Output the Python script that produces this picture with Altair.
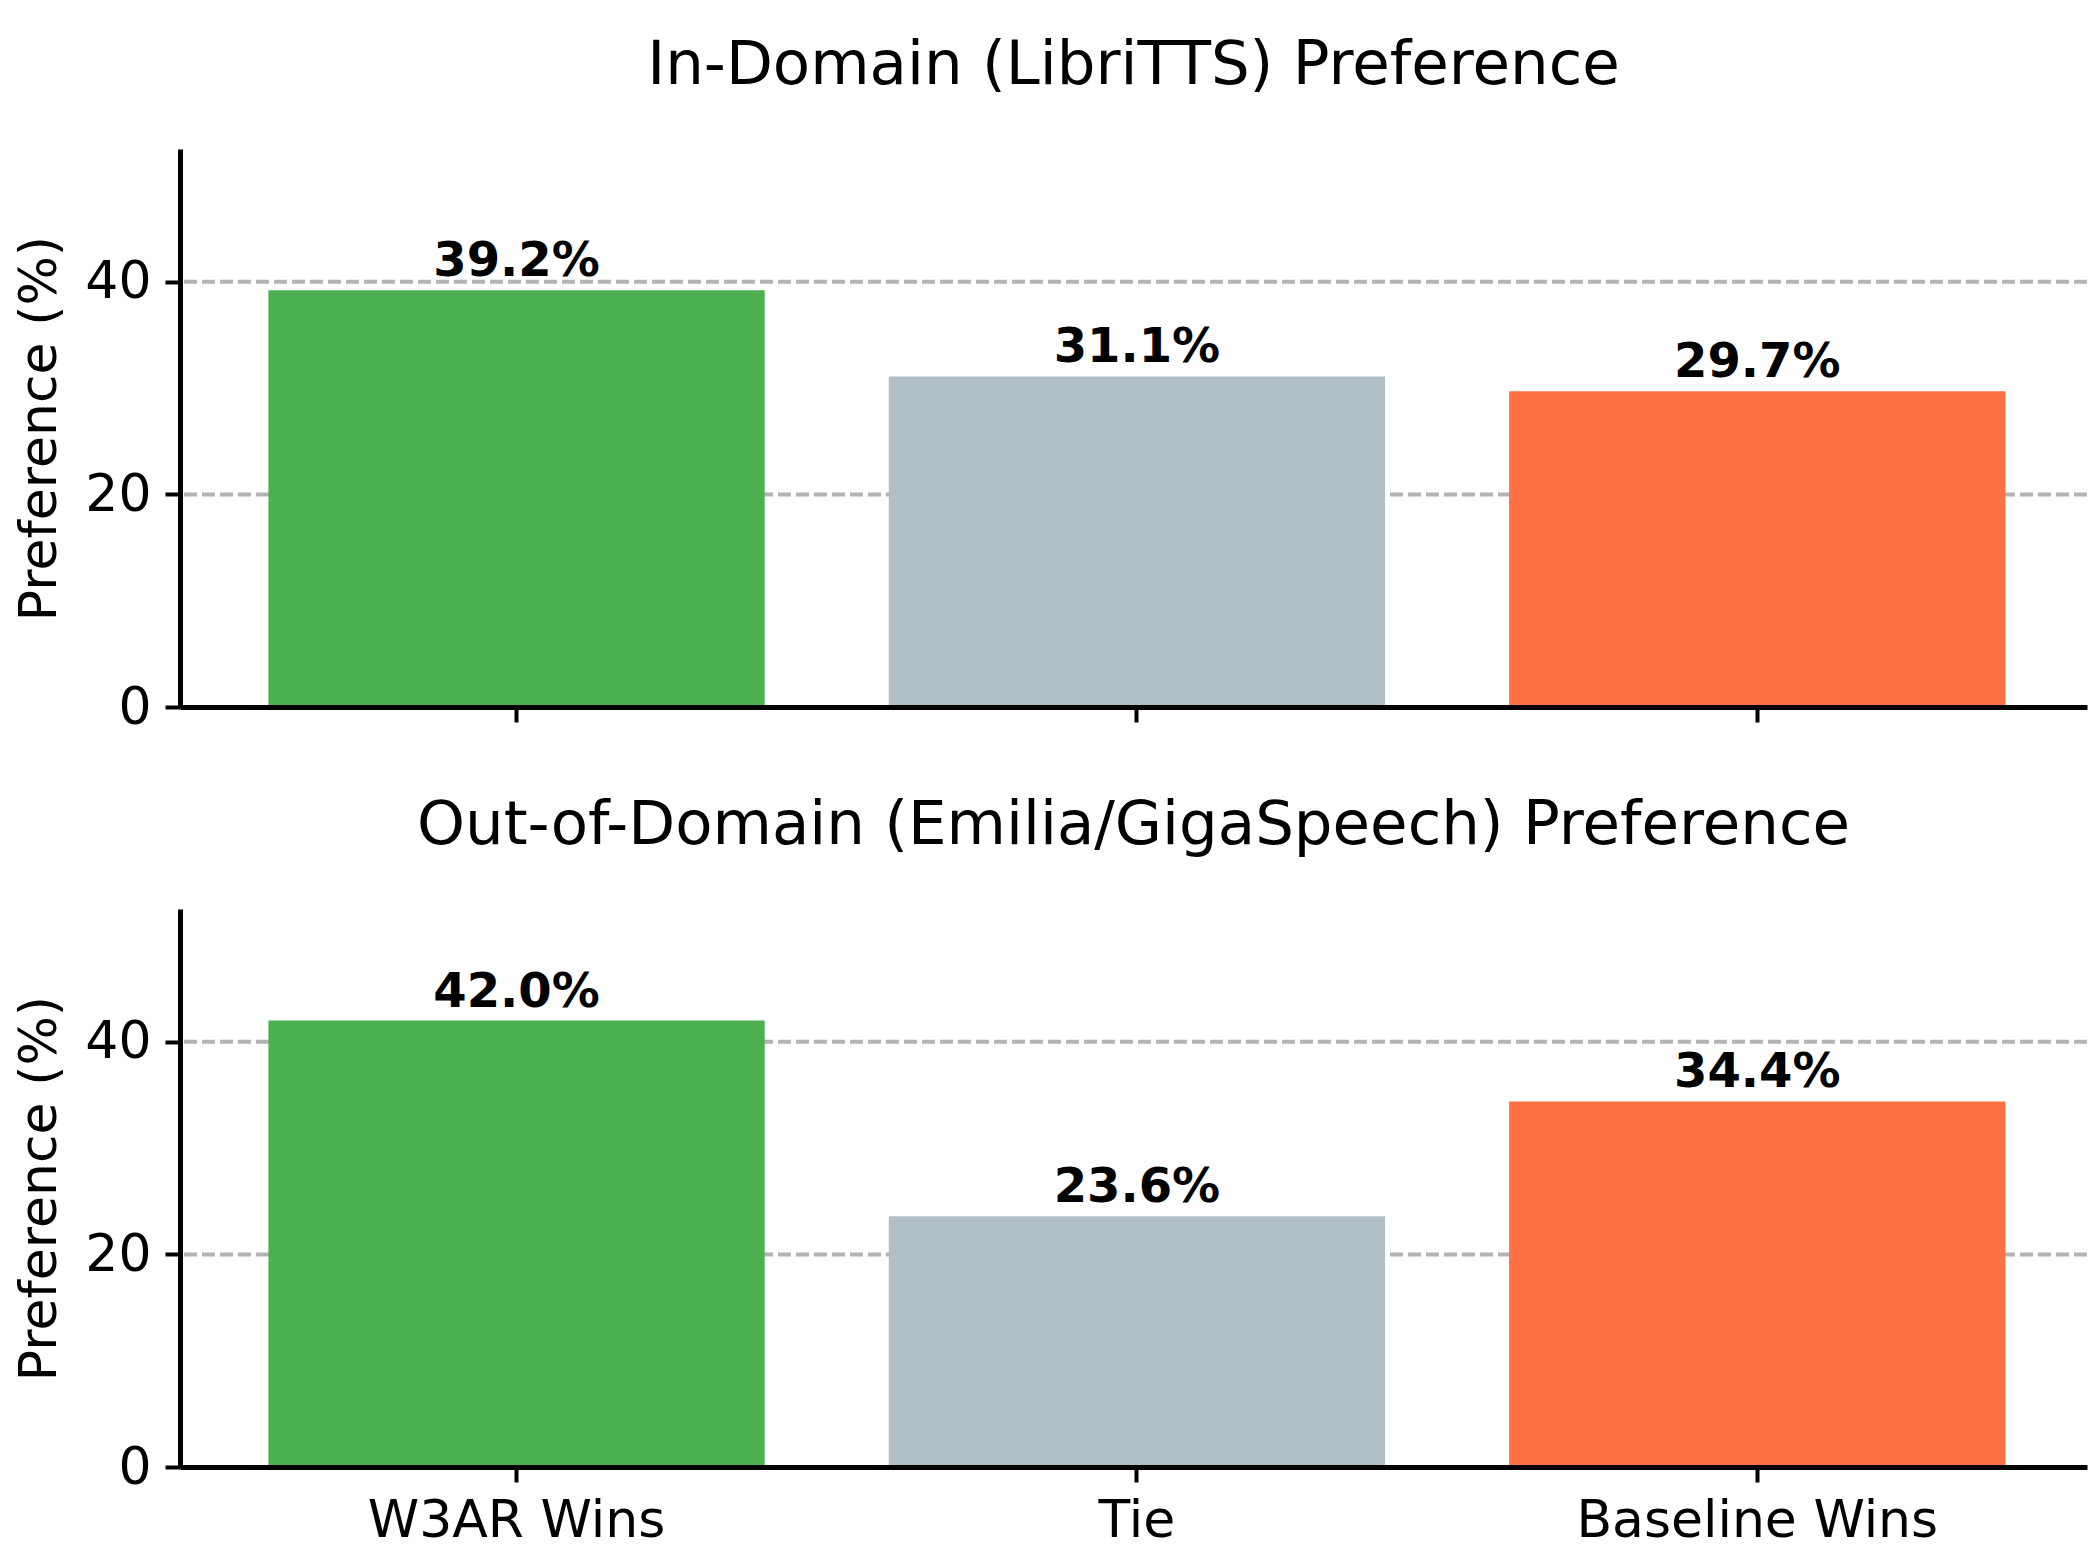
import altair as alt
import pandas as pd

categories = ["W3AR Wins", "Tie", "Baseline Wins"]
in_domain = [39.2, 31.1, 29.7]
out_domain = [42.0, 23.6, 34.4]
bar_colors = ["#4CAF50", "#B0BEC5", "#FF7043"]
grid_values = [20, 40]
y_ticks = [0, 20, 40]
y_max = 52.5

titles = ["In-Domain (LibriTTS) Preference",
          "Out-of-Domain (Emilia/GigaSpeech) Preference"]

FONT = "DejaVu Sans"
W, H = 1907, 558


def panel(values, title, show_labels):
    df = pd.DataFrame({
        "category": categories,
        "value": values,
        "label": [f"{v:.1f}%" for v in values],
    })
    grid_df = pd.DataFrame({"g": grid_values})

    x = alt.X(
        "category:N",
        sort=categories,
        scale=alt.Scale(paddingInner=0.2, paddingOuter=0.137, align=0.52),
        axis=alt.Axis(
            title=None,
            labels=show_labels,
            labelAngle=0,
            labelFontSize=52,
            labelFont=FONT,
            labelColor="black",
            labelPadding=13,
            labelLimit=1000,
            ticks=True,
            tickSize=15,
            tickWidth=4,
            tickColor="black",
            domainWidth=5,
            domainColor="black",
            grid=False,
            zindex=1,
        ),
    )
    y = alt.Y(
        "value:Q",
        scale=alt.Scale(domain=[0, y_max], nice=False, zero=True),
        axis=alt.Axis(
            title="Preference (%)",
            titleFont=FONT,
            titleFontSize=52,
            titleFontWeight="normal",
            titleColor="black",
            titlePadding=18,
            values=y_ticks,
            labelFontSize=52,
            labelFont=FONT,
            labelColor="black",
            labelPadding=14,
            tickSize=15,
            tickWidth=4,
            tickColor="black",
            domainWidth=5,
            domainColor="black",
            grid=False,
            zindex=1,
        ),
    )

    grid = alt.Chart(grid_df).mark_rule(
        color="#b3b3b3", strokeWidth=4, strokeDash=[13, 5]
    ).encode(y=alt.Y("g:Q", scale=alt.Scale(domain=[0, y_max], nice=False)))

    bars = alt.Chart(df).mark_bar().encode(
        x=x,
        y=y,
        color=alt.Color("category:N",
                        scale=alt.Scale(domain=categories, range=bar_colors),
                        legend=None),
    )
    text = alt.Chart(df).mark_text(
        font=FONT, fontSize=48, fontWeight="bold", color="black",
        baseline="alphabetic", align="center", dy=-14,
    ).encode(x=alt.X("category:N", sort=categories), y="value:Q", text="label:N")

    return alt.layer(grid, bars, text).properties(
        width=W,
        height=H,
        title=alt.TitleParams(
            text=title, font=FONT, fontSize=61, fontWeight="normal",
            color="black", anchor="middle", baseline="alphabetic", offset=4,
        ),
    )


top = panel(in_domain, titles[0], False)
bottom = panel(out_domain, titles[1], True)

chart = alt.vconcat(
    top, bottom, spacing=202, bounds="flush"
).properties(
    background="white",
    padding={"left": 5, "top": 27, "right": 0, "bottom": 5},
).configure_view(
    strokeWidth=0, strokeOpacity=0
)

chart.save("out.html", embed_options={"renderer": "svg", "actions": False})
